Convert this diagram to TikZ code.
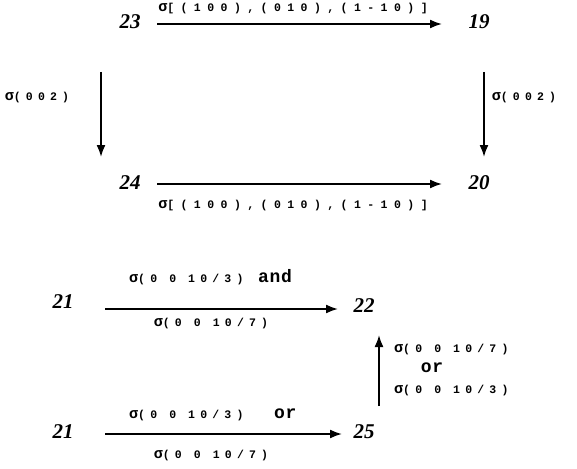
\documentclass[tikz,border=0pt]{standalone}
\usepackage{fontspec}
\setmainfont{Liberation Serif}
\newfontfamily\labfont[LetterSpace=45]{Liberation Mono}
\newfontfamily\widelabfont[LetterSpace=56]{Liberation Mono}
\newfontfamily\wordfont[LetterSpace=4]{Liberation Mono}
\usetikzlibrary{arrows.meta}
\newcommand{\sig}{{\fontsize{15}{15}\selectfont σ}}
\tikzset{
  num/.style={font=\fontsize{21}{21}\selectfont\bfseries\itshape, inner sep=0pt},
  lab/.style={font=\fontsize{11.5}{11.5}\selectfont\labfont\bfseries, inner sep=0pt},
  widelab/.style={font=\fontsize{11.5}{11.5}\selectfont\widelabfont\bfseries, inner sep=0pt},
  word/.style={font=\fontsize{18}{18}\selectfont\wordfont\bfseries, inner sep=0pt},
  arr/.style={line width=1.8pt, -{Latex[length=12pt,width=9pt]}}
}
\begin{document}
\begin{tikzpicture}[x=1pt,y=-1pt]
\useasboundingbox (0,0) rectangle (577,468);
% top square
\node[num] (n23) at (130,22) {23};
\node[num] (n19) at (479,22) {19};
\node[num] (n24) at (130,183) {24};
\node[num] (n20) at (479,183) {20};
\coordinate (a1s) at (157,24); \coordinate (a1e) at (442,24);
\draw[arr] (a1s) -- (a1e);
\node[widelab] (l1) at (293,9) {\sig[(100),(010),(1-10)]};
\coordinate (a2s) at (157,184); \coordinate (a2e) at (442,184);
\draw[arr] (a2s) -- (a2e);
\node[widelab] (l2) at (293,206) {\sig[(100),(010),(1-10)]};
\coordinate (v1s) at (101,72); \coordinate (v1e) at (101,157);
\draw[arr] (v1s) -- (v1e);
\node[lab] (l3) at (37,98) {\sig(002)};
\coordinate (v2s) at (484,72); \coordinate (v2e) at (484,157);
\draw[arr] (v2s) -- (v2e);
\node[lab] (l4) at (524,98) {\sig(002)};
% middle
\node[num] (m21) at (63,302) {21};
\node[num] (m22) at (364,306) {22};
\coordinate (a3s) at (105,309); \coordinate (a3e) at (338,309);
\draw[arr] (a3s) -- (a3e);
\node[lab, anchor=base west] (l5) at (129,282) {\sig(0 0 10/3)};
\node[word, anchor=base west] (l5b) at (258,282) {and};
\node[lab] (l6) at (211,324) {\sig(0 0 10/7)};
% bottom
\node[num] (b21) at (63,432) {21};
\node[num] (b25) at (364,432) {25};
\coordinate (a4s) at (105,434); \coordinate (a4e) at (342,434);
\draw[arr] (a4s) -- (a4e);
\node[lab, anchor=base west] (l7) at (129,418) {\sig(0 0 10/3)};
\node[word, anchor=base west] (l7b) at (274,418) {or};
\node[lab] (l8) at (211,456) {\sig(0 0 10/7)};
% vertical
\coordinate (v3s) at (379,406); \coordinate (v3e) at (379,335);
\draw[arr] (v3s) -- (v3e);
\node[lab, anchor=west] (l9) at (394,350) {\sig(0 0 10/7)};
\node[word] (l9b) at (432,368) {or};
\node[lab, anchor=west] (l10) at (394,391) {\sig(0 0 10/3)};
\end{tikzpicture}
\end{document}
